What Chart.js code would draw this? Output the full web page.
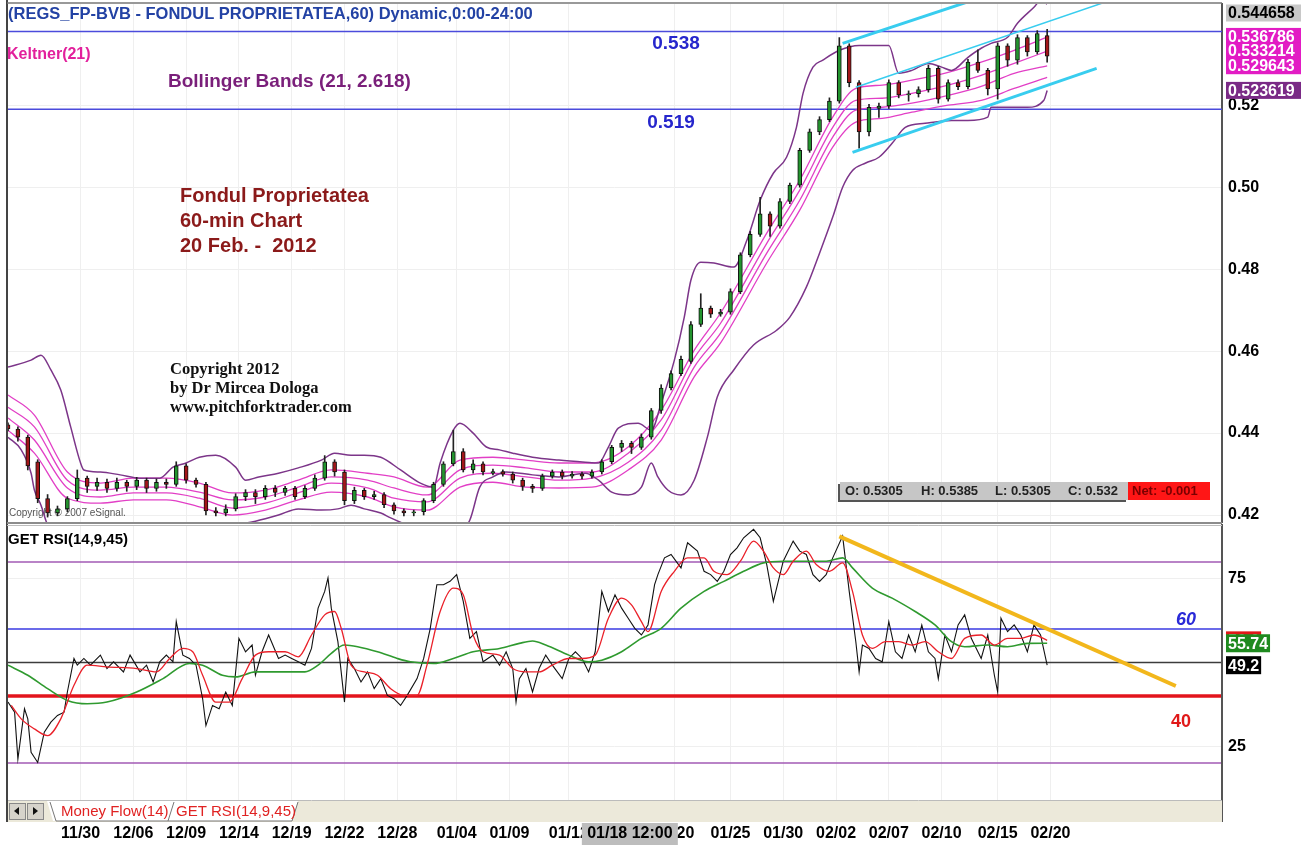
<!DOCTYPE html>
<html>
<head>
<meta charset="utf-8">
<script src="https://cdn.jsdelivr.net/npm/chart.js@4.4.0/dist/chart.umd.min.js"></script>
<style>
  html, body { margin: 0; padding: 0; background: #fff; }
  #wrap { position: relative; width: 1313px; height: 863px; overflow: hidden; }
  canvas { position: absolute; left: 0; }
  #priceChart { top: 0; }
  #rsiChart { top: 524px; }
</style>
</head>
<body>
<div id="wrap">
  <canvas id="priceChart" width="1313" height="524"></canvas>
  <canvas id="rsiChart" width="1313" height="339"></canvas>
</div>
<script>
// ---- x axis: hourly bar number, tick labels ----
const tickBars = [22, 38, 54, 70, 86, 102, 118, 136, 152, 170, 202, 219, 235, 251, 267, 283, 300, 316]
const tickLabels = ['11/30', '12/06', '12/09', '12/14', '12/19', '12/22', '12/28', '01/04', '01/09', '01/12', '01/20', '01/25', '01/30', '02/02', '02/07', '02/10', '02/15', '02/20']
const cursorBar = 188.5
const cursorLabel = '01/18 12:00'

// ---- candles (every 3rd hourly bar) ----
const candleBars = [0,3,6,9,12,15,18,21,24,27,30,33,36,39,42,45,48,51,54,57,60,63,66,69,72,75,78,81,84,87,90,93,96,99,102,105,108,111,114,117,120,123,126,129,132,135,138,141,144,147,150,153,156,159,162,165,168,171,174,177,180,183,186,189,192,195,198,201,204,207,210,213,216,219,222,225,228,231,234,237,240,243,246,249,252,255,258,261,264,267,270,273,276,279,282,285,288,291,294,297,300,303,306,309,312,315]
const opens = [
  .4420,.4410,.4390,.4330,.4240,.4205,.4215,.4240,.4290,.4270,
  .4280,.4265,.4280,.4270,.4285,.4265,.4280,.4275,.4320,.4285,
  .4275,.4210,.4205,.4215,.4245,.4255,.4245,.4265,.4255,.4265,
  .4245,.4265,.4290,.4330,.4305,.4235,.4260,.4245,.4250,.4225,
  .4210,.4205,.4208,.4235,.4275,.4325,.4355,.4310,.4325,.4302,
  .4306,.4300,.4285,.4270,.4265,.4295,.4305,.4295,.4300,.4295,
  .4305,.4330,.4365,.4375,.4365,.4390,.4455,.4510,.4545,.4575,
  .4665,.4705,.4690,.4695,.4745,.4835,.4885,.4935,.4905,.4965,
  .5005,.5090,.5135,.5165,.5210,.5345,.5255,.5135,.5192,.5198,
  .5255,.5225,.5228,.5238,.5290,.5215,.5255,.5245,.5305,.5285,
  .5240,.5345,.5310,.5365,.5330,.5370]
const closes = [
  .4410,.4390,.4320,.4240,.4205,.4215,.4240,.4290,.4270,.4280,
  .4265,.4280,.4270,.4285,.4265,.4280,.4275,.4320,.4285,.4275,
  .4210,.4205,.4215,.4245,.4255,.4245,.4265,.4255,.4265,.4245,
  .4265,.4290,.4330,.4305,.4235,.4260,.4245,.4250,.4225,.4210,
  .4205,.4208,.4235,.4275,.4325,.4355,.4310,.4325,.4305,.4306,
  .4300,.4285,.4270,.4265,.4295,.4305,.4295,.4300,.4295,.4305,
  .4330,.4365,.4375,.4365,.4390,.4455,.4510,.4545,.4580,.4665,
  .4705,.4690,.4695,.4745,.4835,.4885,.4935,.4905,.4965,.5005,
  .5090,.5135,.5165,.5210,.5345,.5255,.5135,.5195,.5198,.5255,
  .5225,.5228,.5238,.5290,.5215,.5255,.5245,.5305,.5285,.5240,
  .5345,.5310,.5365,.5330,.5375,.5320]
const highs = [
  .4425,.4415,.4395,.4335,.4250,.4222,.4245,.4310,.4295,.4290,
  .4288,.4290,.4285,.4292,.4290,.4288,.4288,.4330,.4325,.4290,
  .4280,.4218,.4225,.4252,.4262,.4262,.4272,.4272,.4270,.4270,
  .4272,.4298,.4345,.4335,.4310,.4268,.4265,.4258,.4255,.4230,
  .4215,.4212,.4240,.4280,.4330,.4407,.4362,.4335,.4330,.4312,
  .4310,.4305,.4290,.4275,.4300,.4310,.4310,.4306,.4305,.4310,
  .4335,.4370,.4382,.4380,.4398,.4460,.4518,.4552,.4588,.4672,
  .4740,.4710,.4702,.4752,.4840,.4892,.4975,.4940,.4972,.5010,
  .5095,.5142,.5172,.5218,.5365,.5350,.5260,.5202,.5205,.5262,
  .5260,.5235,.5245,.5298,.5295,.5262,.5262,.5312,.5335,.5290,
  .5352,.5350,.5372,.5370,.5382,.5385]
const lows = [
  .4405,.4380,.4310,.4230,.4195,.4198,.4208,.4235,.4255,.4260,
  .4255,.4258,.4258,.4262,.4255,.4258,.4265,.4270,.4278,.4268,
  .4200,.4198,.4198,.4210,.4235,.4228,.4238,.4245,.4248,.4238,
  .4240,.4260,.4285,.4295,.4225,.4228,.4238,.4238,.4218,.4202,
  .4198,.4198,.4200,.4230,.4270,.4320,.4305,.4302,.4298,.4298,
  .4295,.4278,.4260,.4255,.4260,.4290,.4288,.4290,.4288,.4290,
  .4300,.4325,.4355,.4350,.4360,.4385,.4448,.4505,.4540,.4570,
  .4660,.4682,.4685,.4690,.4740,.4830,.4880,.4880,.4900,.4960,
  .5000,.5085,.5128,.5160,.5205,.5245,.5095,.5125,.5170,.5192,
  .5218,.5210,.5220,.5232,.5205,.5210,.5238,.5240,.5280,.5225,
  .5215,.5295,.5300,.5320,.5325,.5305]

// ---- Bollinger Bands (21, 2.618) ----
const bbUpBars = [0,7,10,13,16,19,22,23,28,34,40,46,50,54,58,63,69,72,76,82,88,95,99,104,108,113,119,125,129,131,135,137,141,145,149,153,159,167,175,179,182,185,191,195,198,202,205,207,210,214,220,224,228,232,236,239,241,244,247,252,258,267,270,274,279,283,286,291,295,298,303,306,311,313,315]
const bbUp = [.4561,.4578,.4590,.4554,.4505,.4415,.4327,.4310,.4305,.4298,.4290,.4290,.4317,.4327,.4341,.4346,.4317,.4285,.4293,.4302,.4315,.4334,.4351,.4346,.4346,.4341,.4310,.4278,.4268,.4327,.4407,.4424,.4400,.4366,.4359,.4351,.4341,.4334,.4329,.4327,.4366,.4412,.4424,.4407,.4473,.4578,.4683,.4773,.4817,.4815,.4805,.4871,.4968,.5034,.5073,.5146,.5229,.5293,.5310,.5334,.5346,.5346,.5278,.5285,.5302,.5293,.5285,.5317,.5339,.5351,.5366,.5400,.5439,.5455,.5447]
const bbLoBars = [0,4,7,8,10,12,20,35,50,65,75,82,88,95,100,104,108,113,116,125,134,140,143,147,151,159,167,175,179,183,188,192,195,197,200,204,208,212,215,220,226,233,237,242,246,250,253,256,260,264,268,272,278,286,291,297,298,303,309,314,315]
const bbLo = [.4390,.4359,.4302,.4261,.4224,.4176,.4120,.4110,.4140,.4170,.4185,.4200,.4215,.4212,.4215,.4224,.4215,.4205,.4193,.4163,.4140,.4188,.4268,.4293,.4305,.4298,.4293,.4302,.4285,.4256,.4249,.4268,.4327,.4293,.4261,.4249,.4285,.4390,.4488,.4554,.4615,.4651,.4683,.4756,.4839,.4927,.5000,.5041,.5059,.5073,.5107,.5146,.5156,.5163,.5163,.5171,.5195,.5195,.5195,.5212,.5236]

// ---- Keltner(21) ----
const keltBars = [0,8,18,28,38,48,58,68,78,88,98,109,117,127,137,147,157,167,177,188,198,208,216,230,240,250,257,265,274,285,295,305,315]
const kelt1 = [.4493,.4444,.4305,.4278,.4290,.4290,.4278,.4254,.4261,.4285,.4310,.4302,.4293,.4268,.4334,.4341,.4334,.4327,.4327,.4366,.4456,.4602,.4693,.4888,.5017,.5171,.5241,.5249,.5261,.5280,.5305,.5334,.5366]
const kelt2 = [.4463,.4415,.4285,.4261,.4268,.4268,.4256,.4237,.4244,.4268,.4293,.4285,.4266,.4249,.4310,.4322,.4315,.4305,.4305,.4351,.4432,.4583,.4668,.4863,.4993,.5146,.5212,.5217,.5229,.5249,.5273,.5302,.5332]
const kelt3 = [.4437,.4383,.4266,.4244,.4254,.4254,.4241,.4217,.4229,.4254,.4278,.4266,.4241,.4232,.4290,.4302,.4293,.4285,.4290,.4329,.4407,.4561,.4644,.4839,.4968,.5122,.5188,.5195,.5205,.5224,.5246,.5278,.5296]
const kelt4 = [.4407,.4351,.4241,.4229,.4237,.4237,.4220,.4200,.4212,.4237,.4256,.4244,.4220,.4212,.4268,.4280,.4268,.4266,.4268,.4310,.4383,.4537,.4620,.4815,.4944,.5098,.5159,.5168,.5183,.5200,.5212,.5241,.5268]

// ---- drawn levels / channel ----
const priceLevels = [0.538, 0.519]
const channelBars = [[253, 292], [257, 332], [256, 330]]
const channelVals = [[0.5351, 0.5455], [0.5244, 0.5450], [0.5085, 0.5290]]
const priceTicks = [0.42, 0.44, 0.46, 0.48, 0.50, 0.52]
const priceTags = [0.544658, 0.536786, 0.533214, 0.529643, 0.523619]

// ---- GET RSI(14,9,45) ----
const rsiBars = [0,2,3,5,6,7,9,11,13,15,17,18,20,21,23,25,28,30,32,35,37,40,42,44,46,48,50,51,53,55,57,59,60,62,64,66,68,70,72,74,75,77,79,82,84,86,88,90,92,94,96,97,98,100,102,103,105,107,109,111,113,115,117,119,121,124,126,128,130,132,134,136,138,140,142,144,147,149,151,153,154,155,157,159,161,163,165,168,170,172,174,176,178,180,182,184,186,188,190,192,194,196,197,199,201,204,206,209,211,213,215,217,219,221,223,226,228,230,232,235,238,240,242,244,246,248,250,253,255,257,258,259,261,263,265,267,269,271,273,275,277,279,281,282,284,286,288,290,292,295,297,299,300,301,303,305,307,309,311,313,315]
const rsiVals = [38.2,35.2,21.2,36.2,33.2,23.2,20.2,29.2,32.2,34.2,35.2,41.2,51.2,49.2,51.2,49.2,52.2,48.2,50.2,47.2,52.2,47.2,49.2,44.2,50.2,52.2,50.2,62.2,52.2,51.2,49.2,39.2,31.2,37.2,36.2,41.2,37.2,57.2,53.2,55.2,46.2,53.2,58.2,51.2,52.2,51.2,50.2,49.2,54.2,66.2,71.2,75.2,66.2,56.2,38.2,51.2,48.2,44.2,47.2,42.2,45.2,40.2,39.2,37.2,40.2,45.2,51.2,60.2,73.2,73.2,74.2,76.2,68.2,57.2,59.2,50.2,52.2,49.2,53.2,48.2,38.2,45.2,48.2,41.2,48.2,52.2,49.2,45.2,51.2,53.2,51.2,47.2,53.2,71.2,65.2,70.2,66.2,63.2,60.2,58.2,61.2,73.2,76.2,81.2,82.2,78.2,85.7,83.2,77.2,76.2,74.2,77.2,82.2,84.2,87.2,89.7,87.2,79.2,68.2,80.2,86.2,83.2,82.2,76.2,74.2,76.2,81.2,87.7,71.2,56.2,47.2,55.2,54.2,51.2,50.2,62.2,53.2,51.2,58.2,53.2,61.2,53.2,51.2,45.2,58.2,53.2,61.2,64.2,57.2,51.2,58.2,46.2,41.2,63.2,59.2,61.2,58.2,53.2,61.2,58.2,49.2]
const rsiFastBars = [1,4,8,12,16,20,24,30,39,45,49,53,56,59,63,67,71,75,79,84,88,92,96,99,101,104,108,112,116,120,124,127,131,135,138,141,144,149,153,157,161,165,170,174,178,182,186,189,192,194,198,202,206,211,214,218,222,226,229,232,235,238,242,245,249,253,256,259,262,266,270,274,278,282,286,290,295,299,303,307,311,315]
const rsiFast = [37.2,33.2,30.2,28.2,33.2,43.2,49.2,48.7,48.2,47.2,51.2,54.2,53.2,46.2,38.2,38.2,45.2,52.2,53.2,53.2,51.7,58.2,64.2,65.2,60.2,49.2,47.2,46.2,42.2,40.2,40.2,49.2,65.2,72.2,70.2,58.2,53.2,52.2,48.2,47.2,47.2,49.2,51.2,51.2,52.2,63.2,69.2,67.2,62.2,59.2,71.2,77.2,81.2,81.2,77.2,76.2,80.2,86.2,83.2,78.2,76.2,80.2,83.2,79.2,77.2,79.7,71.2,58.2,54.2,56.2,56.2,55.2,56.2,53.2,51.2,57.2,58.2,55.2,57.2,57.2,58.2,56.6]
const rsiSlowBars = [0,6,12,18,24,30,39,47,55,59,65,69,75,84,90,94,98,102,106,112,118,122,129,135,141,149,155,159,163,170,176,180,186,192,198,204,211,217,223,229,235,241,248,253,256,262,268,275,281,286,290,297,303,309,315]
const rsiSlow = [49.2,46.2,42.2,38.7,37.7,38.2,41.2,45.2,49.7,49.2,46.2,45.7,47.2,47.2,47.2,49.2,52.7,55.2,54.7,53.2,51.2,50.2,49.7,51.2,53.2,54.2,55.7,56.4,55.2,52.2,50.2,50.7,53.2,57.2,60.2,66.2,71.2,74.2,77.2,79.7,80.2,80.2,80.2,81.2,78.2,72.2,69.2,65.2,61.2,56.2,54.7,55.2,54.7,55.7,55.74]
const rsiLevels = [80, 60, 50, 40, 20]
const trendBars = [252, 354]
const trendVals = [87.6, 43]
const rsiTicks = [25, 75]
const rsiTags = [56.6, 55.74, 49.2]

// ---------------------------------------------------------------
const X_MAX = 368
const FONT = 'Arial, "Liberation Sans", sans-serif'
Chart.defaults.font.family = FONT
Chart.defaults.color = '#000'

const pts = (xs, ys) => xs.map((x, i) => ({ x: x, y: ys[i] }))
const flat = v => [{ x: 0, y: v }, { x: X_MAX, y: v }]
const line = (data, color, width, extra) => Object.assign({
  type: 'line', data: data, borderColor: color, borderWidth: width,
  pointRadius: 0, fill: false, tension: 0
}, extra || {})
const smooth = { cubicInterpolationMode: 'monotone' }

const text = (ctx, s, x, y, font, color, align) => {
  ctx.font = font
  ctx.fillStyle = color
  ctx.textAlign = align || 'left'
  ctx.textBaseline = 'middle'
  ctx.fillText(s, x, y)
}
const seg = (ctx, x1, y1, x2, y2) => {
  ctx.beginPath(); ctx.moveTo(x1, y1); ctx.lineTo(x2, y2); ctx.stroke()
}

const xScale = (showLabels) => ({
  type: 'linear', min: 0, max: X_MAX, offset: false,
  afterBuildTicks: s => { s.ticks = tickBars.map(v => ({ value: v })) },
  afterFit: s => { s.height = showLabels ? 63 : 0; s.paddingLeft = 0; s.paddingRight = 0 },
  ticks: {
    display: showLabels, autoSkip: false, maxRotation: 0, minRotation: 0, padding: 24,
    font: { size: 16, weight: 'bold' }, color: '#000',
    callback: (v, i) => tickLabels[i]
  },
  grid: { color: '#efefef', drawTicks: false, offset: false },
  border: { display: false }
})
// right-hand value axis; label overhang must not shrink the plot
const yFit = s => { s.width = 91; s.paddingTop = 0; s.paddingBottom = 0 }

// ---------------- price panel ----------------
const pricePlugin = {
  id: 'priceDecor',
  beforeDatasetsDraw(chart) {
    const ctx = chart.ctx
    text(ctx, 'Copyright \u00a9 2007 eSignal.', 9, 513, '10px ' + FONT, '#555')
  },
  afterDraw(chart) {
    const { ctx, chartArea: a } = chart
    const y = chart.scales.y
    ctx.save()
    ctx.strokeStyle = '#444'; ctx.lineWidth = 2
    seg(ctx, 7, 0, 7, chart.height)
    ctx.strokeStyle = '#777'; ctx.lineWidth = 1.5
    seg(ctx, 7, 3, a.right, 3)
    ctx.strokeStyle = '#8c8c8c'; ctx.lineWidth = 2
    seg(ctx, 7, a.bottom + 1, a.right, a.bottom + 1)

    text(ctx, '(REGS_FP-BVB - FONDUL PROPRIETATEA,60) Dynamic,0:00-24:00', 8, 14, 'bold 16.5px ' + FONT, '#2342a4')
    text(ctx, 'Keltner(21)', 7, 55, 'bold 16px ' + FONT, '#e2209c')
    text(ctx, 'Bollinger Bands (21, 2.618)', 168, 82, 'bold 19px ' + FONT, '#7a1f7a')
    text(ctx, priceLevels[0].toFixed(3), 676, 44, 'bold 19px ' + FONT, '#2626cc', 'center')
    text(ctx, priceLevels[1].toFixed(3), 671, 123, 'bold 19px ' + FONT, '#2626cc', 'center')
    const red = '#8b1a1a'
    text(ctx, 'Fondul Proprietatea', 180, 196, 'bold 20px ' + FONT, red)
    text(ctx, '60-min Chart', 180, 221, 'bold 20px ' + FONT, red)
    text(ctx, '20 Feb. -  2012', 180, 246, 'bold 20px ' + FONT, red)
    const serif = 'bold 16.5px "Liberation Serif", "Times New Roman", serif'
    text(ctx, 'Copyright 2012', 170, 370, serif, '#111')
    text(ctx, 'by Dr Mircea Dologa', 170, 389, serif, '#111')
    text(ctx, 'www.pitchforktrader.com', 170, 408, serif, '#111')

    // OHLC read-out
    ctx.fillStyle = '#555'; ctx.fillRect(838, 484, 288, 18)
    ctx.fillStyle = '#c6c6c6'; ctx.fillRect(840, 482, 288, 18)
    ctx.fillStyle = '#ff1616'; ctx.fillRect(1128, 482, 82, 18)
    const f12 = 'bold 13px ' + FONT
    text(ctx, 'O: 0.5305', 845, 491, f12, '#222')
    text(ctx, 'H: 0.5385', 921, 491, f12, '#222')
    text(ctx, 'L: 0.5305', 995, 491, f12, '#222')
    text(ctx, 'C: 0.532', 1068, 491, f12, '#222')
    text(ctx, 'Net: -0.001', 1132, 491, f12, '#7a0000')

    // last-value tags on the price axis
    const tagBg = ['#c8c8c8', '#e21cc4', '#e21cc4', '#e21cc4', '#7a2a86']
    const tagFg = ['#000', '#fff', '#fff', '#fff', '#fff']
    priceTags.forEach((v, i) => {
      const yy = Math.max(13, y.getPixelForValue(v))
      ctx.fillStyle = tagBg[i]
      ctx.fillRect(a.right + 4, yy - 8.5, 75, 17)
      text(ctx, v.toFixed(6), a.right + 6, yy + 1, 'bold 16px ' + FONT, tagFg[i])
    })
    ctx.restore()
  }
}

const candleColor = c => closes[c.dataIndex] >= opens[c.dataIndex] ? '#23942e' : '#a3161a'

new Chart(document.getElementById('priceChart'), {
  type: 'line',
  data: {
    datasets: [
      line(pts(channelBars[0], channelVals[0]), '#38cdef', 3),
      line(pts(channelBars[1], channelVals[1]), '#38cdef', 1.5),
      line(pts(channelBars[2], channelVals[2]), '#38cdef', 3),
      {
        type: 'bar', data: candleBars.map((b, i) => ({ x: b, y: [opens[i], closes[i]] })),
        backgroundColor: candleColor, borderColor: '#111', borderWidth: 1,
        borderSkipped: false, barThickness: 4, grouped: false
      },
      {
        type: 'bar', data: candleBars.map((b, i) => ({ x: b, y: [lows[i], highs[i]] })),
        backgroundColor: '#222', borderWidth: 0, barThickness: 1, grouped: false
      },
      line(pts(bbUpBars, bbUp), '#7c3589', 1.5, smooth),
      line(pts(bbLoBars, bbLo), '#7c3589', 1.5, smooth),
      line(pts(keltBars, kelt1), '#e23fc6', 1.3, smooth),
      line(pts(keltBars, kelt2), '#e23fc6', 1.3, smooth),
      line(pts(keltBars, kelt3), '#e23fc6', 1.3, smooth),
      line(pts(keltBars, kelt4), '#e23fc6', 1.3, smooth),
      line(flat(priceLevels[0]), '#4b4bdc', 1.5),
      line(flat(priceLevels[1]), '#4b4bdc', 1.5)
    ]
  },
  options: {
    responsive: false, animation: false, events: [],
    layout: { padding: { left: 8, top: 4, right: 0, bottom: 2 } },
    plugins: { legend: { display: false }, tooltip: { enabled: false } },
    scales: {
      x: xScale(false),
      y: {
        position: 'right', min: 0.4183, max: 0.5447,
        afterFit: yFit,
        afterBuildTicks: s => { s.ticks = priceTicks.map(v => ({ value: v })) },
        ticks: { callback: v => v.toFixed(2), font: { size: 16, weight: 'bold' }, color: '#000', padding: 6 },
        grid: { color: '#efefef', drawTicks: false },
        border: { display: true, color: '#555', width: 2 }
      }
    }
  },
  plugins: [pricePlugin]
})

// ---------------- RSI panel ----------------
const rsiPlugin = {
  id: 'rsiDecor',
  afterDraw(chart) {
    const { ctx, chartArea: a } = chart
    const y = chart.scales.y
    const x = chart.scales.x
    ctx.save()
    ctx.strokeStyle = '#444'; ctx.lineWidth = 2
    seg(ctx, 7, 0, 7, 298)
    ctx.strokeStyle = '#555'
    seg(ctx, a.right, 0, a.right, 298)
    ctx.strokeStyle = '#bdbdbd'; ctx.lineWidth = 1
    seg(ctx, 7, 1.5, a.right, 1.5)

    text(ctx, 'GET RSI(14,9,45)', 8, 16, 'bold 15px ' + FONT, '#000')
    text(ctx, String(rsiLevels[1]), 1186, y.getPixelForValue(rsiLevels[1]) - 9, 'italic bold 18px ' + FONT, '#2a2ad8', 'center')
    text(ctx, String(rsiLevels[3]), 1181, y.getPixelForValue(rsiLevels[3]) + 26, 'bold 18px ' + FONT, '#e01818', 'center')

    // last-value tags
    const tagBg = ['#e01818', '#1f8a1f', '#000']
    rsiTags.forEach((v, i) => {
      const yy = y.getPixelForValue(v)
      const s = i === 1 ? v.toFixed(2) : String(v)
      ctx.font = 'bold 16px ' + FONT
      const w = ctx.measureText(s).width + 4
      ctx.fillStyle = tagBg[i]
      ctx.fillRect(a.right + 4, yy - 9, w, 18)
      text(ctx, s, a.right + 6, yy + 1, 'bold 16px ' + FONT, '#fff')
    })

    // indicator tab strip
    ctx.fillStyle = '#ece9da'; ctx.fillRect(8, 277, a.right - 8, 21)
    ctx.strokeStyle = '#bbb'; seg(ctx, 8, 276.5, a.right, 276.5)
    ctx.fillStyle = '#fff'
    ctx.beginPath(); ctx.moveTo(47, 277); ctx.lineTo(53, 297); ctx.lineTo(292, 297); ctx.lineTo(298, 277); ctx.closePath(); ctx.fill()
    ctx.strokeStyle = '#777'
    seg(ctx, 50, 278, 56, 297); seg(ctx, 168, 297, 174, 278); seg(ctx, 292, 297, 298, 278); seg(ctx, 56, 297, 292, 297)
    ;[9, 27].forEach((bx, k) => {
      ctx.fillStyle = '#d6d3cb'; ctx.fillRect(bx, 279, 16, 16)
      ctx.strokeStyle = '#888'; ctx.strokeRect(bx + 0.5, 279.5, 16, 16)
      ctx.fillStyle = '#111'; ctx.beginPath()
      if (k === 0) { ctx.moveTo(bx + 10, 283); ctx.lineTo(bx + 5, 287); ctx.lineTo(bx + 10, 291) }
      else { ctx.moveTo(bx + 6, 283); ctx.lineTo(bx + 11, 287); ctx.lineTo(bx + 6, 291) }
      ctx.fill()
    })
    text(ctx, 'Money Flow(14)', 61, 288, '15px ' + FONT, '#e02222')
    text(ctx, 'GET RSI(14,9,45)', 176, 288, '15px ' + FONT, '#e02222')

    // cursor date box
    const cx = x.getPixelForValue(cursorBar)
    ctx.fillStyle = '#bdbdbd'; ctx.fillRect(cx - 48, 299, 96, 22)
    text(ctx, cursorLabel, cx, 310, 'bold 16px ' + FONT, '#000', 'center')
    ctx.restore()
  }
}

const levelColors = ['#a25ab4', '#3a3ae2', '#3c3c3c', '#e3141c', '#a25ab4']
const levelWidths = [1.5, 1.5, 1.5, 3.5, 1.5]

new Chart(document.getElementById('rsiChart'), {
  type: 'line',
  data: {
    datasets: [
      line(pts(trendBars, trendVals), '#f2b71c', 4),
      line(pts(rsiFastBars, rsiFast), '#ea2029', 1.3, smooth),
      line(pts(rsiSlowBars, rsiSlow), '#2f9a2f', 1.6, smooth),
      line(pts(rsiBars, rsiVals), '#111', 1.1)
    ].concat(rsiLevels.map((v, i) => line(flat(v), levelColors[i], levelWidths[i])))
  },
  options: {
    responsive: false, animation: false, events: [],
    layout: { padding: { left: 8, top: 1, right: 0, bottom: 0 } },
    plugins: { legend: { display: false }, tooltip: { enabled: false } },
    scales: {
      x: xScale(true),
      y: {
        position: 'right', min: 9, max: 91,
        afterFit: yFit,
        afterBuildTicks: s => { s.ticks = rsiTicks.map(v => ({ value: v })) },
        ticks: { font: { size: 16, weight: 'bold' }, color: '#000', padding: 6 },
        grid: { color: '#efefef', drawTicks: false },
        border: { display: true, color: '#555', width: 2 }
      }
    }
  },
  plugins: [rsiPlugin]
})
</script>
</body>
</html>
